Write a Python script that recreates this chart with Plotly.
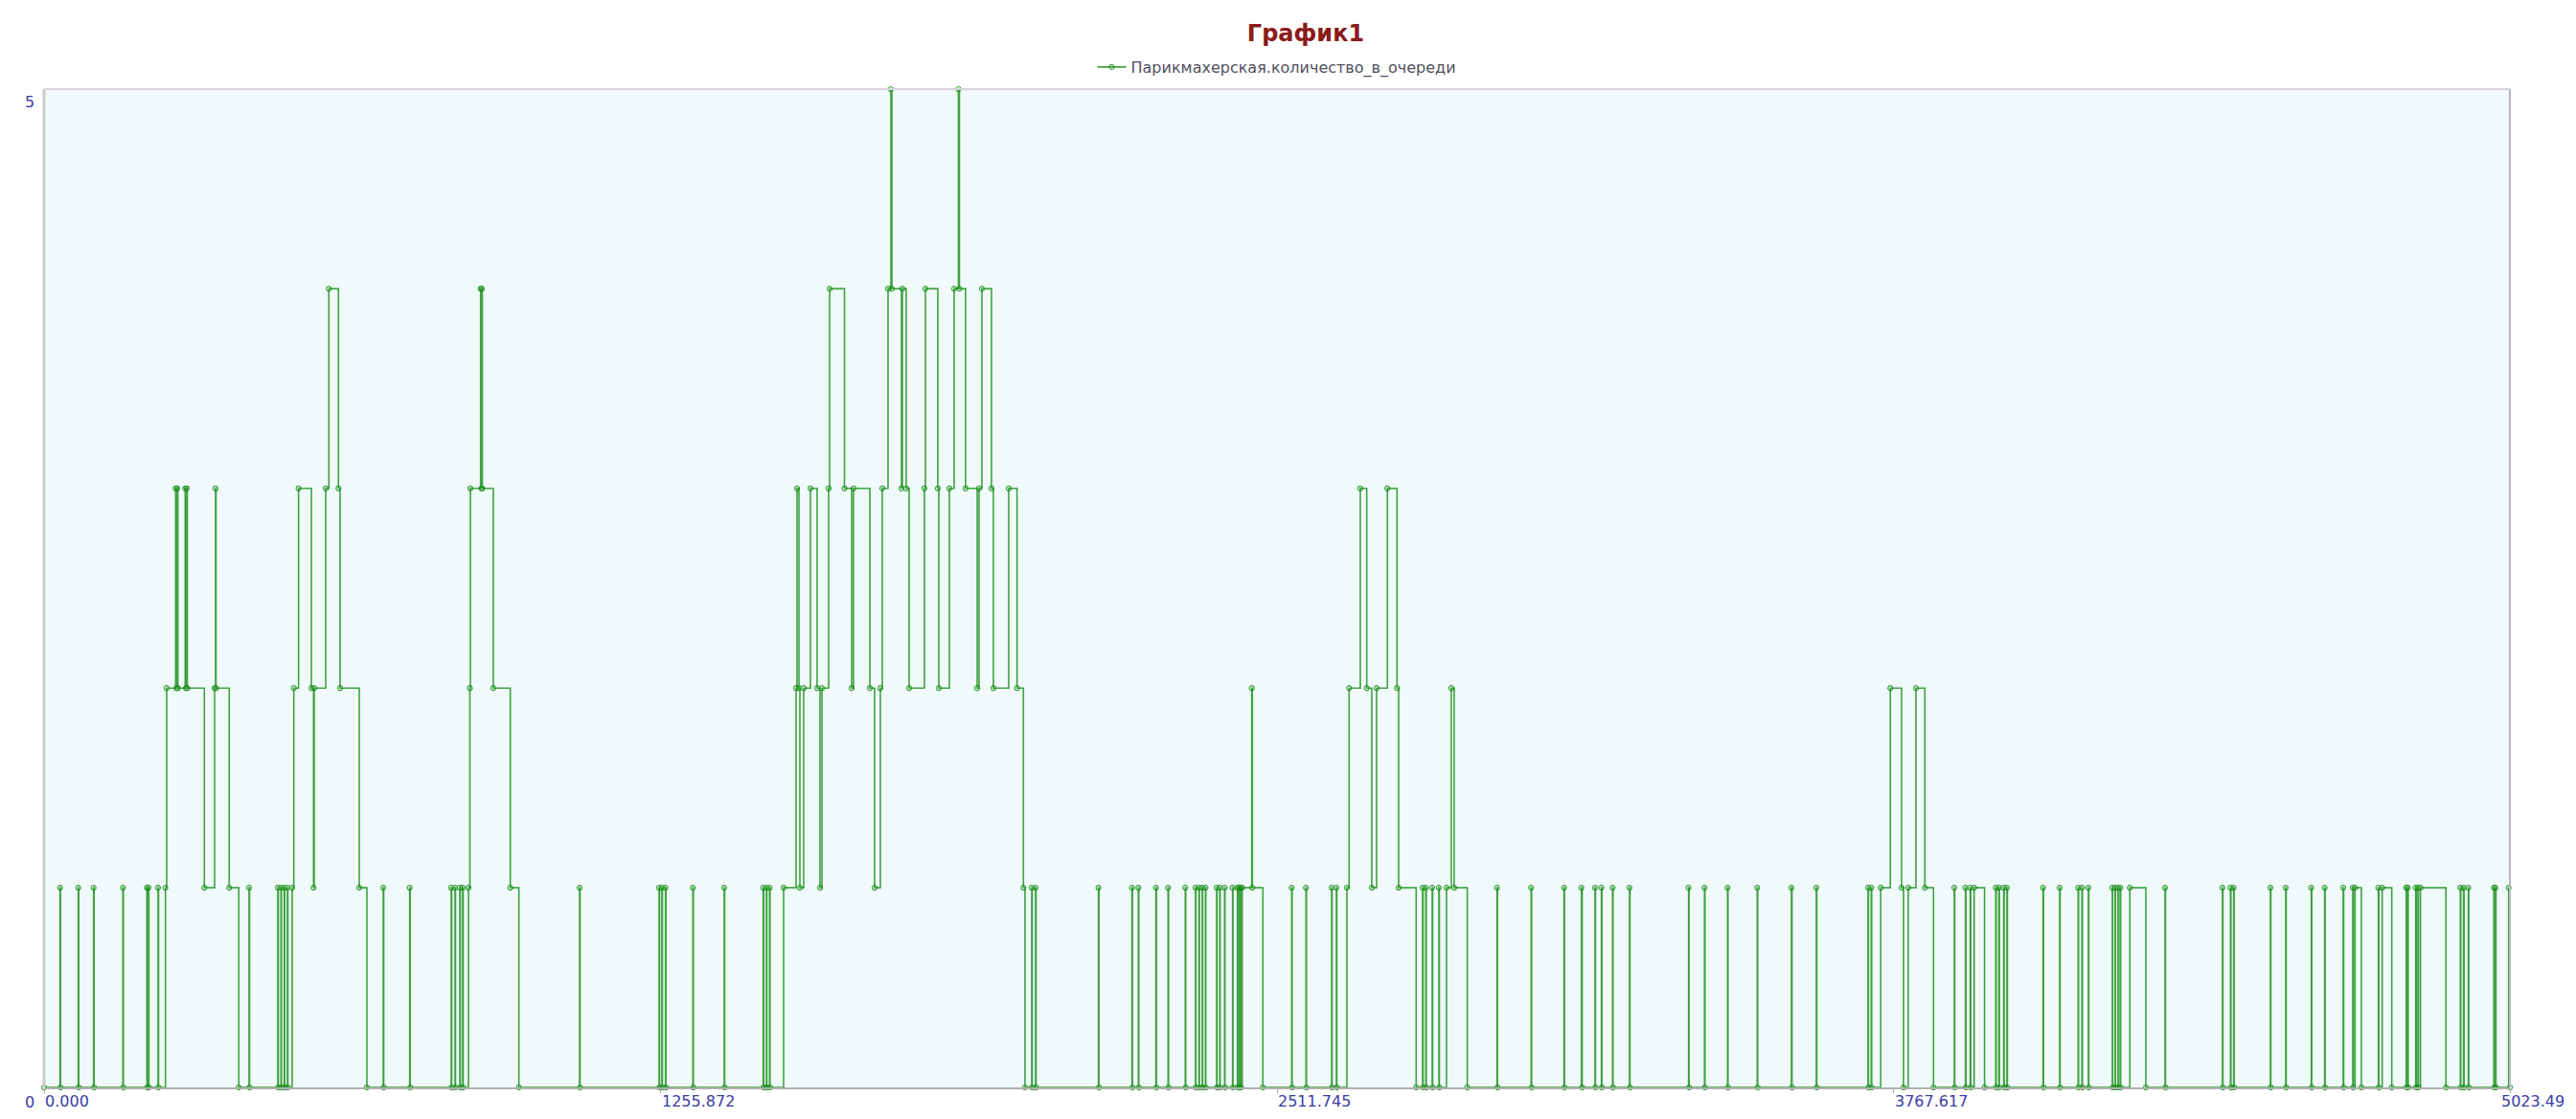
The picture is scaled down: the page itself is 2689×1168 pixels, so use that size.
import plotly.graph_objects as go

title_text = "График1"
series_name = "Парикмахерская.количество_в_очереди"

x_tick_values = [0.0, 1255.872, 2511.745, 3767.617, 5023.49]
x_tick_labels = ["0.000", "1255.872", "2511.745", "3767.617", "5023.49"]
y_tick_values = [0, 5]
y_tick_labels = ["0", "5"]

# (time, queue length) change points
early_steps = [
    (0.0, 0),
    (32.6, 1), (33.6, 0), (69.7, 1), (70.7, 0), (100.9, 1), (101.9, 0),
    (160.6, 1), (161.6, 0), (209.4, 1), (210.2, 0), (212.7, 1), (213.5, 0),
    (232.2, 1), (233.2, 0),
    (247.3, 1), (249.8, 2),
    (268.0, 3), (269.4, 2), (271.3, 3), (272.6, 2),
    (287.5, 3), (288.8, 2), (290.8, 3), (291.8, 2),
    (326.5, 1), (347.4, 2), (349.3, 3), (350.3, 2),
    (377.2, 1), (396.8, 0),
    (417.6, 1), (418.6, 0),
    (476.2, 1), (477.2, 0), (482.6, 1), (483.6, 0), (489.3, 1), (490.3, 0),
    (495.7, 1), (496.7, 0),
    (505.5, 1), (508.8, 2), (518.5, 3), (544.5, 2), (549.0, 1), (550.4, 2),
    (573.8, 3), (580.2, 4), (599.7, 3), (603.0, 2), (642.1, 1), (657.7, 0),
    (690.9, 1), (691.9, 0), (744.9, 1), (745.9, 0),
    (829.4, 1), (830.4, 0), (837.2, 1), (838.2, 0), (847.0, 1), (848.0, 0),
    (852.8, 1), (853.8, 0),
    (864.6, 1), (867.5, 2), (868.5, 3),
    (889.3, 4), (890.9, 3), (891.9, 4), (892.8, 3),
    (915.3, 2), (949.8, 1), (967.4, 0),
    (1090.9, 1), (1091.9, 0),
]

peak_steps = [
    (1252.9, 1), (1253.9, 0), (1258.7, 1), (1259.7, 0), (1266.0, 1), (1267.0, 0),
    (1321.8, 1), (1322.8, 0), (1385.6, 1), (1386.6, 0),
    (1465.1, 1), (1466.1, 0), (1471.5, 1), (1472.5, 0), (1478.0, 1), (1479.0, 0),
    (1506.6, 1), (1532.0, 2), (1534.0, 3), (1537.9, 2), (1539.8, 1), (1547.6, 2),
    (1561.3, 3), (1574.9, 2), (1580.8, 1), (1584.7, 2), (1598.4, 3), (1600.4, 4),
    (1630.6, 3), (1645.2, 2), (1649.1, 3), (1682.3, 2), (1692.0, 1), (1703.7, 2),
    (1707.6, 3), (1719.4, 4), (1725.2, 5), (1727.2, 4), (1746.7, 3), (1748.6, 4),
    (1756.4, 3), (1762.3, 2), (1793.5, 3), (1795.5, 4), (1820.8, 3), (1822.8, 2),
    (1844.3, 3), (1854.0, 4), (1862.8, 5), (1864.8, 4), (1877.4, 3), (1900.9, 2),
    (1904.8, 3), (1910.6, 4), (1930.1, 3), (1934.0, 2), (1965.3, 3), (1982.2, 2),
    (1995.1, 1), (1998.4, 0), (2012.1, 1), (2013.1, 0), (2019.9, 1), (2020.9, 0),
]

mid_steps = [
    (2148.1, 1), (2149.1, 0), (2216.4, 1), (2217.4, 0), (2229.3, 1), (2230.3, 0),
    (2265.2, 1), (2266.2, 0), (2289.8, 1), (2290.8, 0), (2324.9, 1), (2325.9, 0),
    (2345.8, 1), (2346.6, 0), (2353.0, 1), (2353.8, 0), (2359.5, 1), (2360.3, 0),
    (2366.0, 1), (2366.8, 0),
    (2388.8, 1), (2389.6, 0), (2395.2, 1), (2396.0, 0), (2405.0, 1), (2405.8, 0),
    (2421.3, 1), (2422.1, 0), (2431.1, 1), (2431.9, 0), (2434.2, 1), (2435.0, 0),
    (2437.5, 1), (2438.3, 0),
    (2440.9, 1), (2460.4, 2), (2461.6, 1), (2483.0, 0),
    (2541.6, 1), (2542.6, 0), (2570.8, 1), (2571.8, 0), (2623.0, 1), (2624.0, 0),
    (2632.7, 1), (2633.7, 0),
    (2654.2, 1), (2658.7, 2), (2681.5, 3), (2694.6, 2), (2704.9, 1), (2714.7, 2),
    (2736.7, 3), (2756.3, 2), (2759.6, 1), (2795.3, 0),
    (2808.4, 1), (2809.4, 0), (2814.9, 1), (2815.9, 0), (2827.9, 1), (2828.9, 0),
    (2841.5, 1), (2842.5, 0),
    (2857.1, 1), (2866.9, 2), (2872.8, 1), (2899.5, 0),
    (2960.0, 1), (2961.0, 0), (3029.5, 1), (3030.5, 0), (3096.6, 1), (3097.6, 0),
    (3132.0, 1), (3133.5, 0), (3159.6, 1), (3160.6, 0), (3172.7, 1), (3173.7, 0),
    (3195.4, 1), (3196.4, 0), (3229.9, 1), (3230.9, 0), (3350.3, 1), (3351.3, 0),
    (3382.7, 1), (3383.7, 0), (3429.6, 1), (3430.6, 0), (3490.1, 1), (3491.1, 0),
    (3559.7, 1), (3561.0, 0), (3610.5, 1), (3611.5, 0), (3715.8, 1), (3716.8, 0),
    (3722.3, 1), (3723.3, 0),
]

late_steps = [
    (3741.8, 1), (3761.3, 2), (3784.2, 1), (3788.1, 0), (3797.8, 1), (3813.4, 2),
    (3831.6, 1), (3849.2, 0),
    (3891.5, 1), (3892.5, 0), (3914.3, 1), (3915.3, 0), (3924.1, 1), (3925.1, 0),
    (3932.0, 1), (3953.3, 0),
    (3976.0, 1), (3977.0, 0), (3982.5, 1), (3983.5, 0), (3992.3, 1), (3993.3, 0),
    (3998.8, 1), (3999.8, 0),
    (4072.4, 1), (4073.4, 0), (4106.2, 1), (4107.2, 0), (4143.8, 1), (4144.8, 0),
    (4151.6, 1), (4152.6, 0), (4164.7, 1), (4165.7, 0),
    (4213.5, 1), (4214.3, 0), (4219.3, 1), (4220.1, 0), (4225.2, 1), (4226.0, 0),
    (4229.7, 1), (4230.5, 0), (4249.2, 1), (4281.8, 0), (4320.9, 1), (4321.9, 0),
    (4437.9, 1), (4438.9, 0), (4454.2, 1), (4455.2, 0), (4460.7, 1), (4461.7, 0),
    (4535.5, 1), (4536.5, 0), (4566.7, 1), (4567.7, 0), (4618.8, 1), (4619.8, 0),
    (4646.1, 1), (4647.1, 0), (4683.8, 1), (4684.8, 0), (4703.4, 1), (4704.4, 0),
    (4707.9, 1), (4720.9, 0),
    (4755.5, 1), (4756.5, 0), (4763.3, 1), (4782.8, 0),
    (4812.1, 1), (4813.1, 0), (4815.3, 1), (4816.3, 0), (4831.6, 1), (4832.6, 0),
    (4836.1, 1), (4837.1, 0),
    (4841.3, 1), (4893.2, 0),
    (4922.5, 1), (4923.5, 0), (4929.1, 1), (4930.1, 0), (4938.8, 1), (4939.8, 0),
    (4990.8, 1), (4991.8, 0), (4994.1, 1), (4995.1, 0),
    (5021.0, 1), (5023.49, 0),
]

steps = early_steps + peak_steps + mid_steps + late_steps
times = [s[0] for s in steps]
queue = [s[1] for s in steps]

GREEN = "rgba(20,140,20,0.8)"
TICK_BLUE = "#3B3BA6"
FONT = "DejaVu Sans"

fig = go.Figure()
fig.add_trace(go.Scatter(
    x=times, y=queue, name=series_name,
    mode="lines+markers",
    line=dict(color=GREEN, width=1.6, shape="hv"),
    marker=dict(symbol="circle-open", size=5, color=GREEN, line=dict(width=1.2, color=GREEN)),
    cliponaxis=False,
    showlegend=True,
))

# page has an 8px body margin, so the figure is sized to fit inside it
W, H = 2673, 1152
ML, MR, MT, MB = 38, 61, 85, 25
plot_h = H - MT - MB

annotations = []
for i, (v, lab) in enumerate(zip(x_tick_values, x_tick_labels)):
    annotations.append(dict(
        x=v, xref="x", y=0, yref="paper", yanchor="top", yshift=-4,
        xanchor="left", xshift=(-10 if i == len(x_tick_values) - 1 else 0),
        text=lab, showarrow=False, borderpad=0,
        font=dict(family=FONT, size=16, color=TICK_BLUE),
    ))
y_shifts = {0: -5, 5: -3}
for v, lab in zip(y_tick_values, y_tick_labels):
    annotations.append(dict(
        x=0, xref="paper", xshift=-15, xanchor="center",
        y=v, yref="y", yanchor="top", yshift=y_shifts[v],
        text=lab, showarrow=False, borderpad=0,
        font=dict(family=FONT, size=16, color=TICK_BLUE),
    ))

shapes = [
    dict(type="line", xref="paper", yref="paper", x0=0, x1=0, y0=0, y1=1,
         line=dict(color="#CCCCCC", width=3), layer="above"),
    dict(type="line", xref="paper", yref="paper", x0=0, x1=1, y0=1, y1=1,
         line=dict(color="#D6D6D6", width=2), layer="above"),
    dict(type="line", xref="paper", yref="paper", x0=1, x1=1, y0=0, y1=1,
         line=dict(color="#B8B8C2", width=2), layer="above"),
]

fig.update_layout(
    width=W, height=H,
    margin=dict(l=ML, r=MR, t=MT, b=MB, pad=0, autoexpand=False),
    paper_bgcolor="white",
    plot_bgcolor="#F0FAFA",
    font=dict(family=FONT),
    title=dict(
        text="<b>" + title_text + "</b>",
        x=1355 / W, xanchor="center", y=1 - 27 / H, yanchor="middle",
        font=dict(family=FONT, size=24, color="#8B1A1A"),
    ),
    legend=dict(
        orientation="h", x=0.5, xanchor="center",
        y=1 + 23 / plot_h, yanchor="middle",
        font=dict(family=FONT, size=16, color="#505060"),
        bgcolor="rgba(0,0,0,0)", itemwidth=30,
    ),
    xaxis=dict(
        range=[0, 5023.49], showgrid=False, zeroline=False,
        showticklabels=False, tickvals=x_tick_values, ticks="outside",
        ticklen=4, tickcolor="#A8A8A8", showline=True,
        linecolor="#B0B0B0", linewidth=2, fixedrange=True,
    ),
    yaxis=dict(
        range=[0, 5], showgrid=False, zeroline=False,
        showticklabels=False, showline=False, fixedrange=True,
    ),
    annotations=annotations,
    shapes=shapes,
)

fig.write_html("out.html")
